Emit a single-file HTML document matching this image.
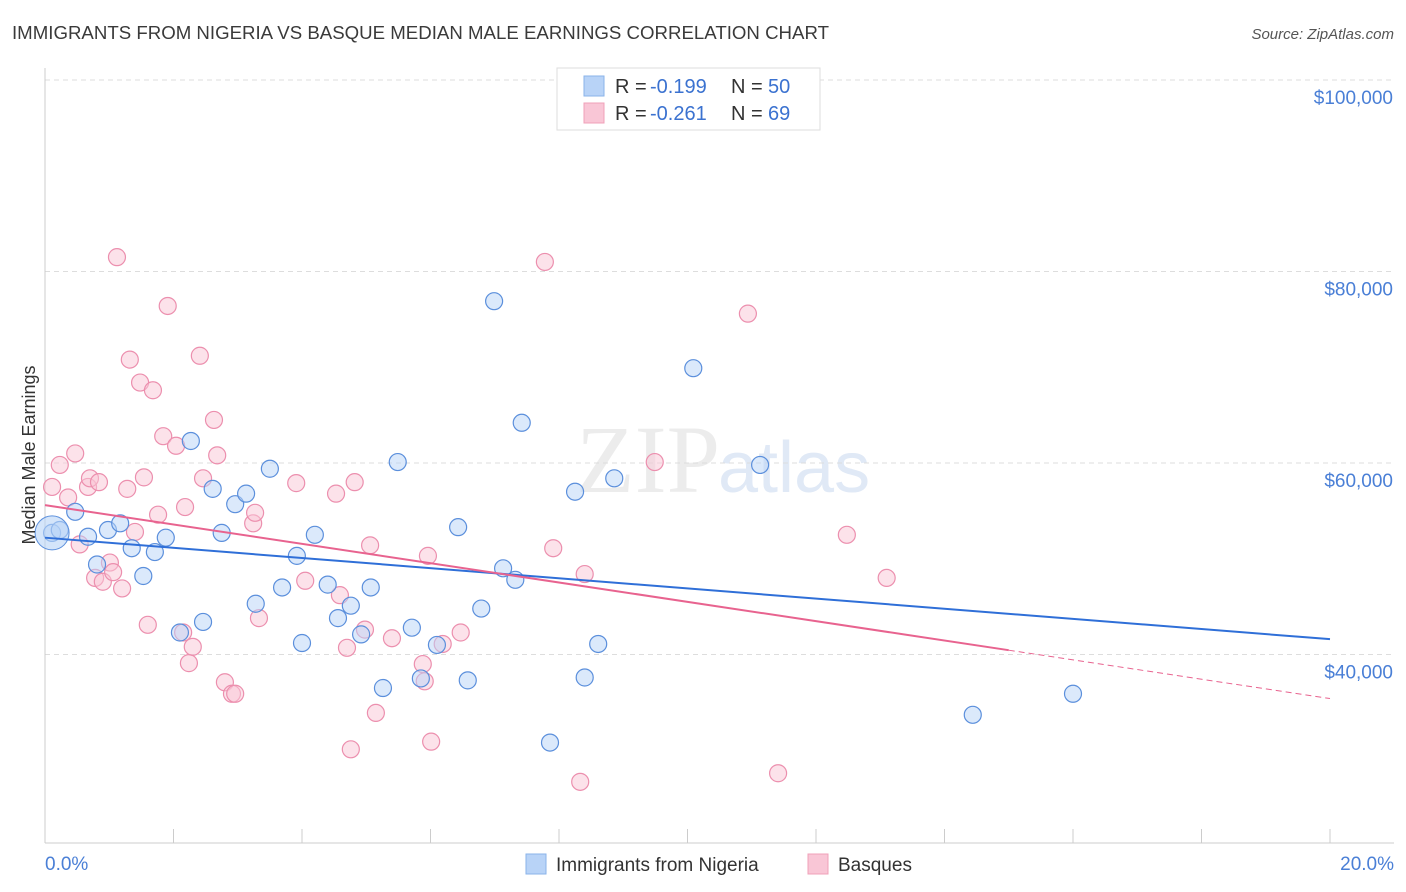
<!DOCTYPE html>
<html><head><meta charset="utf-8"><style>
body{margin:0;background:#fff;font-family:"Liberation Sans",sans-serif}
svg{display:block}
</style></head><body>
<svg id="c" width="1406" height="892">
<text x="12" y="39" font-size="18" fill="#3a3a3a" textLength="817" lengthAdjust="spacingAndGlyphs">IMMIGRANTS FROM NIGERIA VS BASQUE MEDIAN MALE EARNINGS CORRELATION CHART</text>
<text x="1394" y="39" font-size="15" fill="#555" font-style="italic" text-anchor="end">Source: ZipAtlas.com</text>
<text x="720" y="492" font-size="96" fill="#ececec" text-anchor="end" font-family="Liberation Serif">ZIP</text>
<text x="718" y="492" font-size="72" fill="#e0e9f6">atlas</text>
<g id="grid"></g><g id="axes"></g><g id="pts"></g><g id="lines"></g>
<text x="35" y="455" font-size="18" fill="#333" transform="rotate(-90 35 455)" text-anchor="middle">Median Male Earnings</text>
<text x="45" y="870" font-size="19" fill="#4a7fd6">0.0%</text>
<text x="1394" y="870" font-size="19" fill="#4a7fd6" text-anchor="end">20.0%</text>
<g>
<rect x="557" y="68" width="263" height="62" fill="#fff" stroke="#ddd"/>
<rect x="584" y="76" width="20" height="20" fill="#b8d3f7" stroke="#8ab3ea"/>
<rect x="584" y="103" width="20" height="20" fill="#f9c6d6" stroke="#f0a0b8"/>
<text x="615" y="93" font-size="20" fill="#333">R =</text>
<text x="650" y="93" font-size="20" fill="#3b72d0">-0.199</text>
<text x="731" y="93" font-size="20" fill="#333">N =</text>
<text x="768" y="93" font-size="20" fill="#3b72d0">50</text>
<text x="615" y="120" font-size="20" fill="#333">R =</text>
<text x="650" y="120" font-size="20" fill="#3b72d0">-0.261</text>
<text x="731" y="120" font-size="20" fill="#333">N =</text>
<text x="768" y="120" font-size="20" fill="#3b72d0">69</text>
</g>
<g>
<rect x="526" y="854" width="20" height="20" fill="#b8d3f7" stroke="#8ab3ea"/>
<text x="556" y="871" font-size="19" fill="#333">Immigrants from Nigeria</text>
<rect x="808" y="854" width="20" height="20" fill="#f9c6d6" stroke="#f0a0b8"/>
<text x="838" y="871" font-size="19" fill="#333">Basques</text>
</g>
</svg>
<script>
const yTicks=[100,80,60,40];
const yTickLabels=["$100,000","$80,000","$60,000","$40,000"];
const blueX=[0.11,0.23,0.47,0.67,0.81,0.98,1.17,1.35,1.53,1.71,1.88,2.10,2.27,2.46,2.61,2.75,2.96,3.13,3.28,3.50,3.69,3.92,4.00,4.20,4.40,4.56,4.76,4.92,5.07,5.26,5.49,5.71,5.85,6.10,6.43,6.58,6.79,6.99,7.13,7.32,7.42,7.86,8.25,8.40,8.61,8.86,10.09,11.13,14.44,16.00];
const blueY=[52.7,53.0,54.9,52.3,49.4,53.0,53.7,51.1,48.2,50.7,52.2,42.3,62.3,43.4,57.3,52.7,55.7,56.8,45.3,59.4,47.0,50.3,41.2,52.5,47.3,43.8,45.1,42.1,47.0,36.5,60.1,42.8,37.5,41.0,53.3,37.3,44.8,76.9,49.0,47.8,64.2,30.8,57.0,37.6,41.1,58.4,69.9,59.8,33.7,35.9];
const pinkX=[0.11,0.23,0.47,0.36,0.54,0.67,0.70,0.78,0.84,0.90,1.01,1.06,1.12,1.20,1.28,1.32,1.40,1.48,1.54,1.60,1.68,1.76,1.84,1.91,2.04,2.15,2.18,2.24,2.30,2.41,2.46,2.63,2.68,2.80,2.91,2.96,3.24,3.27,3.33,3.91,4.05,4.53,4.59,4.70,4.76,4.82,4.98,5.06,5.15,5.40,5.88,5.91,5.96,6.01,6.19,6.47,7.78,7.91,8.33,8.40,9.49,10.94,11.41,12.48,13.10];
const pinkY=[57.5,59.8,61.0,56.4,51.5,57.5,58.4,48.0,58.0,47.6,49.6,48.6,81.5,46.9,57.3,70.8,52.8,68.4,58.5,43.1,67.6,54.6,62.8,76.4,61.8,42.3,55.4,39.1,40.8,71.2,58.4,64.5,60.8,37.1,35.9,35.9,53.7,54.8,43.8,57.9,47.7,56.8,46.2,40.7,30.1,58.0,42.6,51.4,33.9,41.7,39.0,37.2,50.3,30.9,41.1,42.3,81.0,51.1,26.7,48.4,60.1,75.6,27.6,52.5,48.0];
const blueTrend=[52.2,41.6];
const pinkTrend=[55.6,35.4];
const pinkSolidEnd=15;
const NS="http://www.w3.org/2000/svg";
const X=v=>45+v/20*1285;
const Y=v=>80+(100-v)*191.5/20;
function mk(t,a,p){const e=document.createElementNS(NS,t);for(const k in a)e.setAttribute(k,a[k]);p.appendChild(e);return e;}
const grid=document.getElementById('grid'),axes=document.getElementById('axes');
yTicks.forEach((t,i)=>{
 const l=mk('line',{x1:45,x2:1394,y1:Y(t),y2:Y(t),stroke:'#ddd','stroke-dasharray':'5,4'},grid);
 
 
 const tx=mk('text',{x:1393,y:Y(t)+24,'font-size':19,fill:'#4a7fd6','text-anchor':'end'},axes);
 tx.textContent=yTickLabels[i];
 
 
});
const xa=mk('line',{x1:45,x2:1394,y1:843,y2:843,stroke:'#ccc'},axes);


const ya=mk('line',{x1:45,x2:45,y1:68,y2:843,stroke:'#ccc'},axes);


for(let i=0;i<=10;i++){const t=mk('line',{x1:X(i*2),x2:X(i*2),y1:829,y2:843,stroke:'#ccc'},axes);
 
 }
const pts=document.getElementById('pts');
function dots(xs,ys,f,s,name){xs.forEach((x,i)=>{const c=mk('circle',{cx:X(x),cy:Y(ys[i]),r:8.5,fill:f,'fill-opacity':0.5,stroke:s,'stroke-width':1.2},pts);
 
 });}
dots(pinkX,pinkY,'#f9c6d6','#ec8fae','basques-point');
dots(blueX,blueY,'#b8d3f7','#5b8fdc','nigeria-point');
const big=mk('circle',{cx:X(blueX[0]),cy:Y(blueY[0]),r:17,fill:'#b8d3f7','fill-opacity':0.6,stroke:'#5b8fdc'},pts);


const ln=document.getElementById('lines');
const b=mk('line',{x1:X(0),y1:Y(blueTrend[0]),x2:X(20),y2:Y(blueTrend[1]),stroke:'#2f6fd8','stroke-width':2},ln);


const pm=pinkTrend[0]+(pinkTrend[1]-pinkTrend[0])*pinkSolidEnd/20;
const p1=mk('line',{x1:X(0),y1:Y(pinkTrend[0]),x2:X(pinkSolidEnd),y2:Y(pm),stroke:'#e8638f','stroke-width':2},ln);


const p2=mk('line',{x1:X(pinkSolidEnd),y1:Y(pm),x2:X(20),y2:Y(pinkTrend[1]),stroke:'#e8638f','stroke-width':1,'stroke-dasharray':'6,4'},ln);


</script>
</body></html>
